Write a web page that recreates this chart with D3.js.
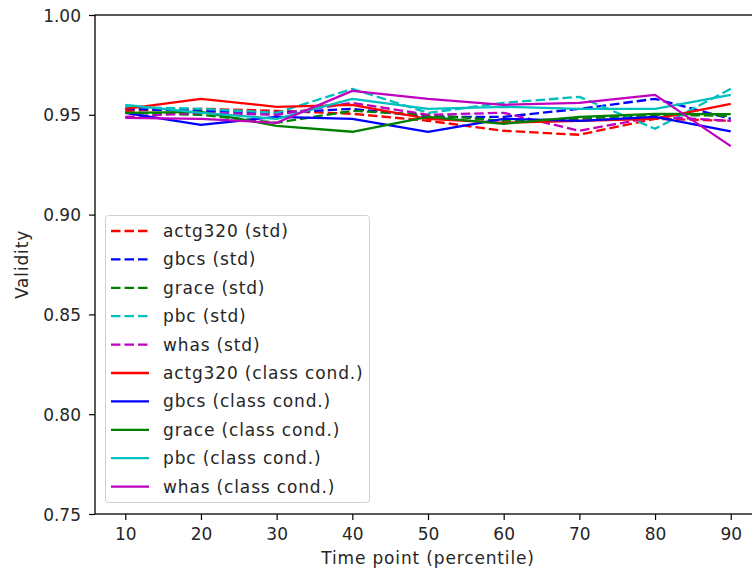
<!DOCTYPE html>
<html>
<head>
<meta charset="utf-8">
<script src="https://cdn.jsdelivr.net/npm/d3@7"></script>
<style>
  html, body { margin: 0; padding: 0; background: #fff; }
  svg { display: block; font-family: "DejaVu Sans", sans-serif; }
</style>
</head>
<body>
<svg id="chart" width="752" height="573"></svg>
<script>
// Time points (percentile) and axis ticks
const timePoints = [10, 20, 30, 40, 50, 60, 70, 80, 90];
const xTicks = [10, 20, 30, 40, 50, 60, 70, 80, 90];
const yTicks = [0.75, 0.80, 0.85, 0.90, 0.95, 1.00];

// Validity per dataset, standard model
const actg320Std = [0.952, 0.953, 0.952, 0.9505, 0.947, 0.942, 0.940, 0.948, 0.947];
const gbcsStd    = [0.953, 0.952, 0.951, 0.953, 0.949, 0.949, 0.953, 0.958, 0.948];
const graceStd   = [0.951, 0.950, 0.946, 0.952, 0.950, 0.947, 0.948, 0.950, 0.9495];
const pbcStd     = [0.954, 0.953, 0.951, 0.963, 0.951, 0.956, 0.959, 0.943, 0.963];
const whasStd    = [0.949, 0.951, 0.950, 0.956, 0.950, 0.951, 0.942, 0.949, 0.947];

// Validity per dataset, class-conditional model
const actg320Cc = [0.953, 0.958, 0.954, 0.955, 0.948, 0.946, 0.947, 0.948, 0.9555];
const gbcsCc    = [0.951, 0.945, 0.949, 0.948, 0.9415, 0.948, 0.947, 0.949, 0.9417];
const graceCc   = [0.951, 0.9515, 0.9445, 0.9415, 0.949, 0.9455, 0.949, 0.9505, 0.9503];
const pbcCc     = [0.955, 0.951, 0.948, 0.958, 0.953, 0.954, 0.953, 0.953, 0.960];
const whasCc    = [0.9485, 0.948, 0.946, 0.962, 0.958, 0.955, 0.956, 0.960, 0.9343];

const seriesNames = ["actg320 (std)", "gbcs (std)", "grace (std)", "pbc (std)", "whas (std)",
  "actg320 (class cond.)", "gbcs (class cond.)", "grace (class cond.)", "pbc (class cond.)", "whas (class cond.)"];
const seriesValues = [actg320Std, gbcsStd, graceStd, pbcStd, whasStd,
  actg320Cc, gbcsCc, graceCc, pbcCc, whasCc];
const palette = ["#ff0000", "#0000ff", "#008000", "#00bfbf", "#bf00bf"];

const series = seriesNames.map((name, i) => ({
  name,
  values: seriesValues[i],
  color: palette[i % 5],
  dashed: i < 5
}));

const svg = d3.select("#chart");
const margin = { left: 95, top: 15, bottom: 514, right: 761 };

const x = d3.scaleLinear().domain([6, 94]).range([margin.left, margin.right]);
const y = d3.scaleLinear().domain([0.75, 1.00]).range([margin.bottom, margin.top]);

const fontSize = 17;
const textColor = "#262626";
const labelSpacing = "0.85px";
const lineWidth = 2.3;
const dash = "9.5,4";

// Series lines
const line = d3.line().x((d, i) => x(timePoints[i])).y(d => y(d));
const plot = svg.append("g");
plot.append("clipPath").attr("id", "plotclip")
  .append("rect").attr("x", margin.left).attr("y", margin.top)
  .attr("width", margin.right - margin.left).attr("height", margin.bottom - margin.top);
const lines = plot.append("g").attr("clip-path", "url(#plotclip)");
series.forEach(s => {
  lines.append("path")
    .datum(s.values)
    .attr("d", line)
    .attr("fill", "none")
    .attr("stroke", s.color)
    .attr("stroke-width", lineWidth)
    .attr("stroke-linejoin", "round")
    .attr("stroke-dasharray", s.dashed ? dash : null);
});

// Axes
const xAxis = d3.axisBottom(x).tickValues(xTicks).tickFormat(d3.format("d")).tickSizeOuter(0).tickSize(6).tickPadding(8);
const yAxis = d3.axisLeft(y).tickValues(yTicks).tickFormat(d3.format(".2f")).tickSizeOuter(0).tickSize(6).tickPadding(8);

const gx = svg.append("g").attr("transform", `translate(0,${margin.bottom})`).call(xAxis);
const gy = svg.append("g").attr("transform", `translate(${margin.left},0)`).call(yAxis);
[gx, gy].forEach(g => {
  g.select(".domain").remove();
  g.selectAll("line").attr("stroke", "#000").attr("stroke-width", 1.2);
  g.selectAll("text").attr("font-size", fontSize).attr("fill", textColor)
    .attr("font-family", "DejaVu Sans, sans-serif");
});
gx.selectAll("text").attr("dy", "0.71em");
gy.selectAll("text").attr("dy", "0.36em");

// Frame
svg.append("rect")
  .attr("x", margin.left).attr("y", margin.top)
  .attr("width", margin.right - margin.left).attr("height", margin.bottom - margin.top)
  .attr("fill", "none").attr("stroke", "#000").attr("stroke-width", 1.3);

// Axis titles
svg.append("text")
  .attr("x", 428).attr("y", 564)
  .attr("text-anchor", "middle").attr("font-size", fontSize).attr("fill", textColor)
  .attr("letter-spacing", labelSpacing)
  .text("Time point (percentile)");
svg.append("text")
  .attr("transform", `translate(28,${(margin.top + margin.bottom) / 2}) rotate(-90)`)
  .attr("text-anchor", "middle").attr("font-size", fontSize).attr("fill", textColor)
  .attr("letter-spacing", labelSpacing)
  .text("Validity");

// Legend
const legend = svg.append("g");
legend.append("rect")
  .attr("x", 105.5).attr("y", 215.5).attr("width", 264).attr("height", 287).attr("rx", 3)
  .attr("fill", "#fff").attr("fill-opacity", 0.85).attr("stroke", "#d0d0d0").attr("stroke-width", 1);
series.forEach((s, i) => {
  const cy = 231 + i * 28.4;
  legend.append("line")
    .attr("x1", 111).attr("x2", 149).attr("y1", cy).attr("y2", cy)
    .attr("stroke", s.color).attr("stroke-width", lineWidth)
    .attr("stroke-dasharray", s.dashed ? dash : null);
  legend.append("text")
    .attr("x", 163).attr("y", cy + 6)
    .attr("font-size", fontSize).attr("fill", textColor)
    .attr("letter-spacing", labelSpacing)
    .text(s.name);
});
</script>
</body>
</html>
